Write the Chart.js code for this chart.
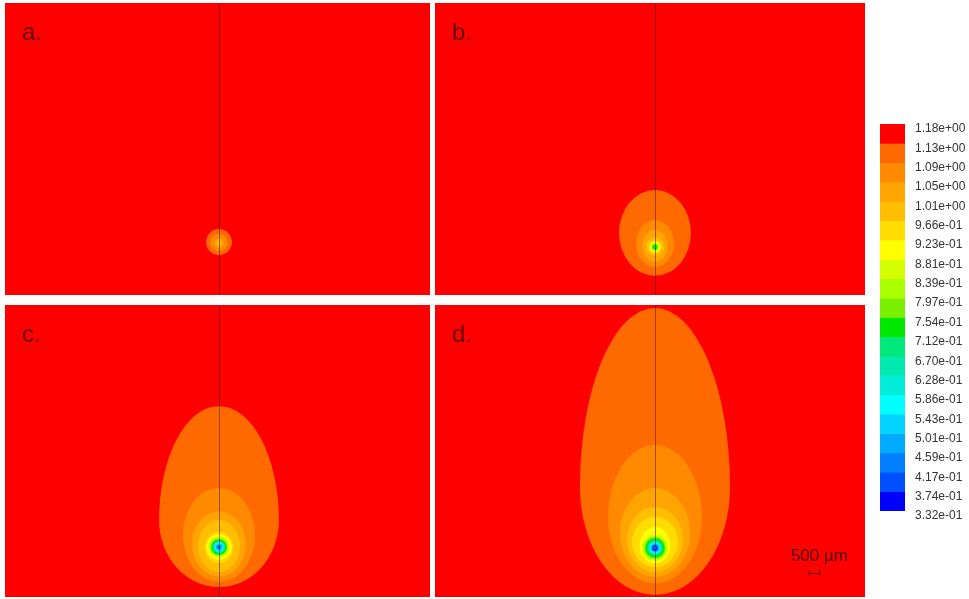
<!DOCTYPE html>
<html>
<head>
<meta charset="utf-8">
<script src="https://cdn.jsdelivr.net/npm/chart.js@4.4.1/dist/chart.umd.min.js"></script>
<style>
  html, body { margin: 0; padding: 0; background: #ffffff; width: 969px; height: 599px; overflow: hidden; }
  canvas { position: absolute; }
</style>
</head>
<body>
<canvas id="panelA" width="425" height="292" style="left:5px;top:3px"></canvas>
<canvas id="panelB" width="430" height="292" style="left:435px;top:3px"></canvas>
<canvas id="panelC" width="425" height="292" style="left:5px;top:305px"></canvas>
<canvas id="panelD" width="430" height="292" style="left:435px;top:305px"></canvas>
<canvas id="colourBar" width="94" height="440" style="left:875px;top:100px"></canvas>
<script>
// Contour levels on the colour bar, top to bottom
const levels = [1.18, 1.13, 1.09, 1.05, 1.01, 0.966, 0.923, 0.881, 0.839, 0.797, 0.754,
                0.712, 0.670, 0.628, 0.586, 0.543, 0.501, 0.459, 0.417, 0.374, 0.332];

// Fill colour of each band between two neighbouring levels, top to bottom
const bandColours = ['#ff0000', '#ff6a00', '#ff8a00', '#ffa400', '#ffbf00', '#ffdd00', '#ffff00',
                     '#d4ff00', '#aaff00', '#7af000', '#00e800', '#00e87a', '#00eab0', '#00ecd8',
                     '#00ffff', '#00d4ff', '#00aaff', '#007fff', '#0050ff', '#0000ff'];

// Contour regions per panel, outermost first (mm):
// [band index, height of widest point, half width, extent upward, extent downward]
const panelA = [
  [1, 2.49, 0.61, 0.61, 0.61],
  [2, 2.47, 0.40, 0.40, 0.40],
  [3, 2.45, 0.22, 0.22, 0.22],
  [4, 2.44, 0.10, 0.10, 0.10]
];
const panelB = [
  [1, 2.92, 1.69, 2.02, 2.02],
  [2, 2.42, 0.89, 1.10, 1.10],
  [3, 2.31, 0.59, 0.75, 0.75],
  [4, 2.27, 0.42, 0.45, 0.42],
  [5, 2.26, 0.30, 0.30, 0.30],
  [6, 2.26, 0.24, 0.24, 0.24],
  [7, 2.26, 0.20, 0.20, 0.20],
  [8, 2.26, 0.17, 0.17, 0.17],
  [9, 2.26, 0.14, 0.14, 0.14],
  [10, 2.26, 0.11, 0.11, 0.11],
  [11, 2.26, 0.07, 0.07, 0.07]
];
const panelC = [
  [1, 3.62, 2.82, 5.36, 3.15],
  [2, 2.92, 1.69, 2.21, 2.21],
  [3, 2.49, 1.27, 1.53, 1.53],
  [4, 2.40, 0.99, 1.22, 1.22],
  [5, 2.33, 0.66, 0.73, 0.73],
  [6, 2.35, 0.60, 0.60, 0.60],
  [7, 2.35, 0.50, 0.50, 0.50],
  [8, 2.35, 0.44, 0.44, 0.44],
  [9, 2.35, 0.40, 0.40, 0.40],
  [10, 2.35, 0.36, 0.36, 0.36],
  [11, 2.35, 0.31, 0.31, 0.31],
  [12, 2.35, 0.27, 0.27, 0.27],
  [13, 2.35, 0.24, 0.24, 0.24],
  [14, 2.35, 0.20, 0.20, 0.20],
  [15, 2.35, 0.16, 0.16, 0.16],
  [16, 2.35, 0.13, 0.13, 0.13],
  [17, 2.35, 0.09, 0.09, 0.09],
  [18, 2.35, 0.06, 0.06, 0.06]
];
const panelD = [
  [1, 5.18, 3.53, 8.42, 5.08],
  [2, 3.76, 2.21, 3.39, 3.11],
  [3, 3.01, 1.65, 2.12, 2.07],
  [4, 2.71, 1.32, 1.53, 1.53],
  [5, 2.59, 1.08, 1.18, 1.18],
  [6, 2.40, 0.72, 0.90, 0.80],
  [7, 2.31, 0.62, 0.62, 0.62],
  [8, 2.31, 0.55, 0.55, 0.55],
  [9, 2.31, 0.50, 0.50, 0.50],
  [10, 2.31, 0.45, 0.45, 0.45],
  [11, 2.31, 0.38, 0.38, 0.38],
  [12, 2.31, 0.33, 0.33, 0.33],
  [13, 2.31, 0.29, 0.29, 0.29],
  [14, 2.31, 0.25, 0.25, 0.25],
  [15, 2.31, 0.21, 0.21, 0.21],
  [16, 2.31, 0.18, 0.18, 0.18],
  [17, 2.31, 0.15, 0.15, 0.15],
  [18, 2.31, 0.12, 0.12, 0.12],
  [19, 2.31, 0.09, 0.09, 0.09],
  [14, 2.31, 0.04, 0.04, 0.04]
];

const panelLabels = ['a.', 'b.', 'c.', 'd.'];
const scaleBarMm = 0.5;
const scaleBarText = '500 µm';

// Axis of symmetry sits at x = 0
const symmetryX = 0;

const FONT = '"Liberation Sans", Arial, sans-serif';

// Draws the filled contour regions, the symmetry axis, the panel letter and the scale bar
const contourPlugin = {
  id: 'contours',
  beforeDatasetsDraw(chart, args, opts) {
    const { ctx, chartArea: a, scales: { x, y } } = chart;
    ctx.save();
    ctx.beginPath();
    ctx.rect(a.left, a.top, a.width, a.height);
    ctx.clip();

    ctx.fillStyle = bandColours[0];
    ctx.fillRect(a.left, a.top, a.width, a.height);

    const x0 = x.getPixelForValue(symmetryX);
    for (const [band, cy, hw, up, down] of opts.regions) {
      const py = y.getPixelForValue(cy);
      const rx = x.getPixelForValue(symmetryX + hw) - x0;
      const ru = py - y.getPixelForValue(cy + up);
      const rd = y.getPixelForValue(cy - down) - py;
      ctx.beginPath();
      ctx.ellipse(x0, py, rx, ru, 0, Math.PI, 2 * Math.PI);
      ctx.ellipse(x0, py, rx, rd, 0, 0, Math.PI);
      ctx.closePath();
      ctx.fillStyle = bandColours[band];
      ctx.fill();
    }

    // symmetry axis
    ctx.strokeStyle = 'rgba(70, 30, 30, 0.55)';
    ctx.lineWidth = 1;
    ctx.beginPath();
    ctx.moveTo(Math.round(x0) + 0.5, a.top);
    ctx.lineTo(Math.round(x0) + 0.5, a.bottom);
    ctx.stroke();

    // panel letter
    ctx.fillStyle = 'rgba(75, 10, 10, 0.85)';
    ctx.font = '24px ' + FONT;
    ctx.textAlign = 'left';
    ctx.textBaseline = 'alphabetic';
    ctx.fillText(opts.label, a.left + 17, a.top + 37);

    if (opts.scaleBar) {
      const bx0 = x.getPixelForValue(7.25);
      const bx1 = x.getPixelForValue(7.25 + scaleBarMm);
      const by = Math.round(y.getPixelForValue(1.13)) + 0.5;
      ctx.strokeStyle = 'rgba(70, 10, 10, 0.85)';
      ctx.lineWidth = 1;
      ctx.beginPath();
      ctx.moveTo(bx0, by); ctx.lineTo(bx1, by);
      ctx.moveTo(bx0, by - 3); ctx.lineTo(bx0, by + 3);
      ctx.moveTo(bx1, by - 3); ctx.lineTo(bx1, by + 3);
      ctx.stroke();
      ctx.fillStyle = 'rgba(60, 5, 5, 0.9)';
      ctx.font = '17px ' + FONT;
      ctx.textAlign = 'center';
      ctx.textBaseline = 'middle';
      ctx.fillText(scaleBarText, (bx0 + bx1) / 2 + 5, by - 17);
    }
    ctx.restore();
  }
};

function makePanel(id, regions, label, xMin, xMax, scaleBar) {
  return new Chart(document.getElementById(id), {
    type: 'scatter',
    data: { datasets: [] },
    plugins: [contourPlugin],
    options: {
      responsive: false,
      animation: false,
      events: [],
      layout: { padding: 0 },
      plugins: {
        legend: { display: false },
        tooltip: { enabled: false },
        contours: { regions, label, scaleBar }
      },
      scales: {
        x: { type: 'linear', min: xMin, max: xMax, display: false },
        y: { type: 'linear', min: 0, max: 13.74, display: false }
      }
    }
  });
}

makePanel('panelA', panelA, panelLabels[0], -10.07, 9.93, false);
makePanel('panelB', panelB, panelLabels[1], -10.35, 9.88, false);
makePanel('panelC', panelC, panelLabels[2], -10.07, 9.93, false);
makePanel('panelD', panelD, panelLabels[3], -10.35, 9.88, true);

// Format like 1.18e+00 / 9.66e-01
function fmtLevel(v) {
  const [m, e] = v.toExponential(2).split('e');
  const n = parseInt(e, 10);
  return m + 'e' + (n < 0 ? '-' : '+') + String(Math.abs(n)).padStart(2, '0');
}

// Colour bar: bands are evenly spaced by level index (0 = top level)
new Chart(document.getElementById('colourBar'), {
  type: 'bar',
  data: {
    labels: [''],
    datasets: bandColours.map((c, i) => ({
      data: [[i, i + 1]],
      backgroundColor: c,
      borderWidth: 0,
      borderSkipped: false,
      grouped: false,
      barPercentage: 1,
      categoryPercentage: 1
    }))
  },
  options: {
    responsive: false,
    animation: false,
    events: [],
    layout: { padding: { top: 24, bottom: 29, left: 5, right: 0 } },
    plugins: { legend: { display: false }, tooltip: { enabled: false } },
    scales: {
      x: { display: false },
      y: {
        position: 'right',
        reverse: true,
        min: 0,
        max: levels.length - 1,
        grid: { display: false, drawTicks: false },
        border: { display: false },
        afterFit(scale) { scale.width = 64; },
        afterBuildTicks(scale) { scale.ticks = levels.map((v, i) => ({ value: i })); },
        ticks: {
          autoSkip: false,
          padding: 10,
          labelOffset: 5,
          color: '#333333',
          font: { family: FONT, size: 12 },
          callback: v => fmtLevel(levels[v])
        }
      }
    }
  }
});
</script>
</body>
</html>
